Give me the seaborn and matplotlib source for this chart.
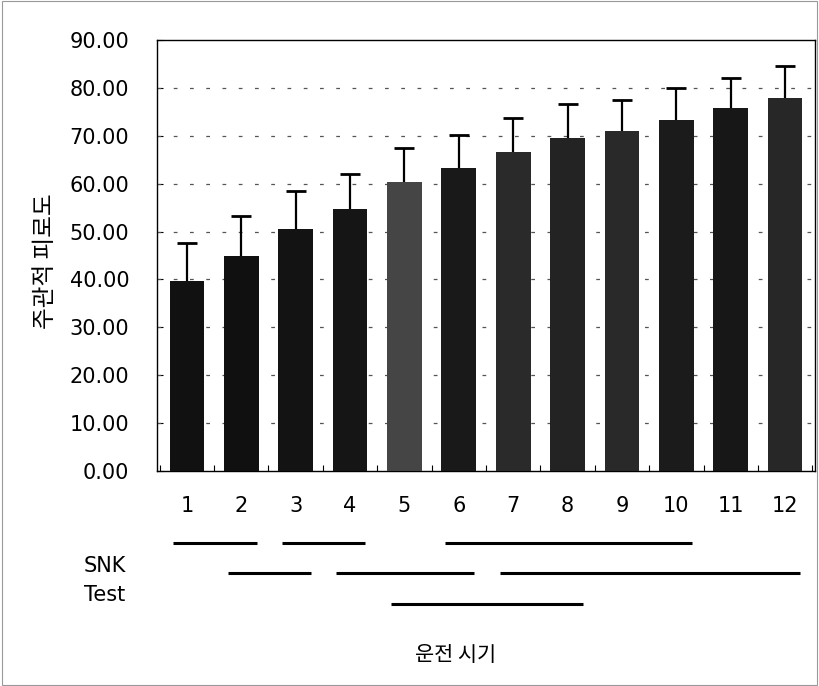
import matplotlib
matplotlib.use("Agg")
import matplotlib.pyplot as plt
import seaborn as sns
import numpy as np
import pandas as pd
from matplotlib.patches import Rectangle
from matplotlib.ticker import FixedLocator

# Subjective fatigue by driving period (mean + SD)
periods = ["1", "2", "3", "4", "5", "6", "7", "8", "9", "10", "11", "12"]
fatigue_mean = [39.6, 45.0, 50.5, 54.8, 60.3, 63.2, 66.6, 69.5, 71.0, 73.3, 75.8, 77.8]
fatigue_sd = [8.0, 8.2, 8.0, 7.2, 7.2, 7.0, 7.2, 7.2, 6.5, 6.7, 6.2, 6.8]
y_ticks = [0, 10, 20, 30, 40, 50, 60, 70, 80, 90]

# SNK homogeneous subsets: (first period, last period) per row
snk_rows = [
    [("1", "2"), ("3", "4"), ("6", "10")],
    [("2", "3"), ("4", "6"), ("7", "12")],
    [("5", "8")],
]

bar_colors = ["#111111", "#101010", "#131313", "#151515", "#454545", "#191919",
              "#2a2a2a", "#232323", "#292929", "#1b1b1b", "#171717", "#272727"]

sns.set_theme(style="white")
plt.rcParams["font.family"] = ["DejaVu Sans", "Noto Sans CJK KR"]

df = pd.DataFrame({"period": periods, "fatigue": fatigue_mean})

fig = plt.figure(figsize=(8.19, 6.86), dpi=100)
ax = fig.add_axes([0.1917, 0.3134, 0.8034, 0.6283])

sns.barplot(data=df, x="period", y="fatigue", hue="period", palette=bar_colors,
            legend=False, width=0.64, linewidth=0, ax=ax, zorder=3)

# upper-only SD whiskers with a cap at the top
xpos = np.arange(len(periods))
tops = np.array(fatigue_mean) + np.array(fatigue_sd)
ax.vlines(xpos, fatigue_mean, tops, color="black", lw=1.6, zorder=4)
ax.plot(xpos, tops, ls="none", marker="_", ms=14, mew=2.0, color="black", zorder=4)

ax.set_ylim(0, 90)
ax.set_xlim(-0.55, len(periods) - 0.45)
ax.set_yticks(y_ticks)
ax.set_yticklabels([f"{v:.2f}" for v in y_ticks])
ax.tick_params(axis="y", direction="in", length=4, width=0.8, pad=20, labelsize=15,
               left=True, colors="black")
ax.tick_params(axis="x", which="major", length=0, pad=18, labelsize=15, colors="black")
ax.xaxis.set_minor_locator(FixedLocator(np.arange(-0.5, len(periods), 1.0)))
ax.tick_params(axis="x", which="minor", direction="in", length=4, width=0.8,
               bottom=True, color="black")
ax.set_xlabel("")
ax.set_ylabel("")

for v in y_ticks[1:-1]:
    ax.axhline(v, color="#555555", lw=0.9, ls=(0, (3, 10)), zorder=1)

for s in ax.spines.values():
    s.set_visible(True)
    s.set_color("black")
    s.set_linewidth(1.0)

# SNK grouping lines under the axis
idx = {p: i for i, p in enumerate(periods)}
row_y = [-0.167, -0.237, -0.309]
trans = ax.get_xaxis_transform()
for yy, groups in zip(row_y, snk_rows):
    for a, b in groups:
        ax.plot([idx[a] - 0.25, idx[b] + 0.28], [yy, yy], color="black", lw=2.2,
                transform=trans, clip_on=False, solid_capstyle="butt")

fig.text(0.128, 0.175, "SNK", ha="center", va="center", fontsize=15,
         color="black", family=["DejaVu Sans"])
fig.text(0.128, 0.133, "Test", ha="center", va="center", fontsize=15,
         color="black", family=["DejaVu Sans"])

fig.text(0.055, 0.62, "주관적 피로도", rotation=90, ha="center", va="center",
         fontsize=17, color="black", family=["Noto Sans CJK KR", "DejaVu Sans"])
fig.text(0.556, 0.045, "운전 시기", ha="center", va="center", fontsize=15,
         color="black", family=["Noto Sans CJK KR", "DejaVu Sans"])

fig.patches.append(Rectangle((0.002, 0.002), 0.996, 0.996, transform=fig.transFigure,
                             fill=False, edgecolor="#999999", lw=0.8))

fig.savefig("out.png", dpi=100, facecolor="white")
